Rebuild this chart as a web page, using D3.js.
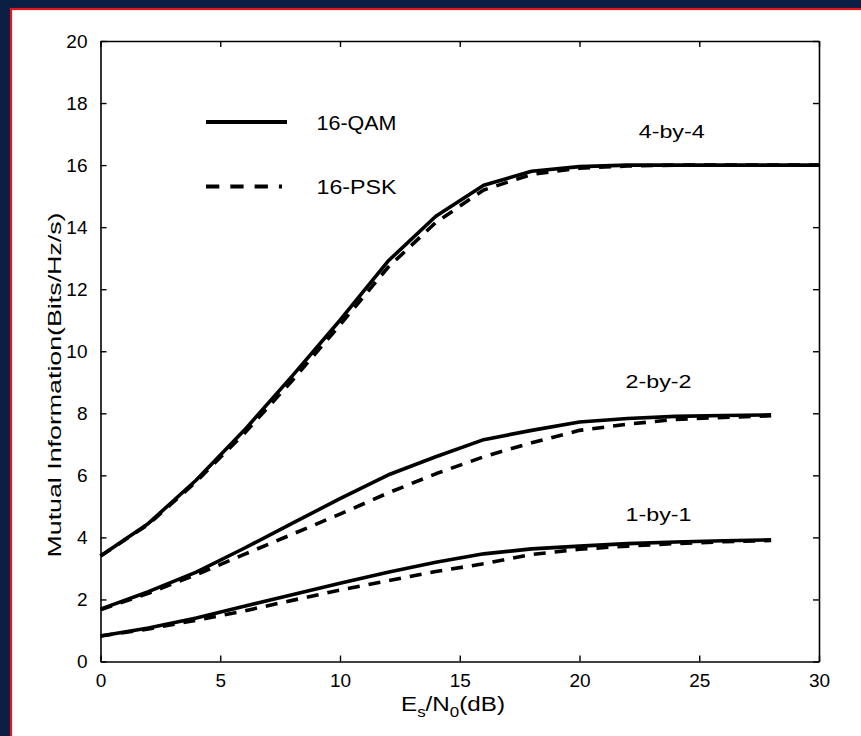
<!DOCTYPE html>
<html>
<head>
<meta charset="utf-8">
<script src="https://cdn.jsdelivr.net/npm/d3@7"></script>
<style>
  html, body { margin: 0; padding: 0; background: #0b1f45; }
  svg { display: block; }
  text { font-family: "Liberation Sans", Arial, sans-serif; fill: #000; }
</style>
</head>
<body>
<svg id="chart" width="861" height="736"></svg>
<script>
// ---- data ----
const snrDb = [0, 2, 4, 6, 8, 10, 12, 14, 16, 18, 20, 22, 24, 26, 28, 30];
const qam4x4 = [3.4, 4.45, 5.85, 7.45, 9.2, 11.0, 12.9, 14.35, 15.35, 15.8, 15.95, 16.0, 16.0, 16.0, 16.0, 16.0];
const psk4x4 = [3.4, 4.42, 5.8, 7.35, 9.05, 10.85, 12.7, 14.15, 15.2, 15.7, 15.9, 15.97, 16.0, 16.0, 16.0, 16.0];
const qam2x2 = [1.69, 2.25, 2.88, 3.65, 4.45, 5.25, 6.01, 6.6, 7.15, 7.45, 7.72, 7.83, 7.9, 7.93, 7.95];
const psk2x2 = [1.67, 2.2, 2.8, 3.45, 4.1, 4.75, 5.43, 6.05, 6.6, 7.05, 7.45, 7.65, 7.8, 7.87, 7.92];
const qam1x1 = [0.82, 1.08, 1.4, 1.78, 2.15, 2.52, 2.88, 3.2, 3.47, 3.63, 3.72, 3.8, 3.85, 3.89, 3.92];
const psk1x1 = [0.82, 1.05, 1.33, 1.63, 1.97, 2.3, 2.6, 2.9, 3.15, 3.45, 3.62, 3.72, 3.8, 3.86, 3.9];
const xTicks = [0, 5, 10, 15, 20, 25, 30];
const yTicks = [0, 2, 4, 6, 8, 10, 12, 14, 16, 18, 20];
const curveLabels = ["4-by-4", "2-by-2", "1-by-1"];
const curveLabelPos = [[23.85, 16.88], [23.3, 8.82], [23.3, 4.53]]; // [dB, value] anchor
const legendNames = ["16-QAM", "16-PSK"];

// ---- layout ----
const svg = d3.select("#chart");
const L = 100.5, R = 819, T = 41, B = 661.5;

// page frame
svg.append("rect").attr("x", 0).attr("y", 0).attr("width", 861).attr("height", 736).attr("fill", "#0b1f45");
svg.append("rect").attr("x", 11).attr("y", 9).attr("width", 861).attr("height", 740)
  .attr("fill", "#ffffff").attr("stroke", "#e8141b").attr("stroke-width", 2.2);

const x = d3.scaleLinear().domain([0, 30]).range([L, R]);
const y = d3.scaleLinear().domain([0, 20]).range([B, T]);

const g = svg.append("g");

// axes box
const axisStyle = sel => {
  sel.select(".domain").attr("stroke", "#000").attr("stroke-width", 1.6);
  sel.selectAll(".tick line").attr("stroke", "#000").attr("stroke-width", 1.4);
  sel.selectAll(".tick text").style("font-size", "19px").style("font-family", "Liberation Sans, Arial, sans-serif");
};
g.append("g").attr("transform", `translate(0,${B})`)
  .call(d3.axisBottom(x).tickValues(xTicks).tickSizeInner(-6).tickSizeOuter(0).tickPadding(12).tickFormat(d3.format("d")))
  .call(axisStyle);
g.append("g").attr("transform", `translate(0,${T})`)
  .call(d3.axisTop(x).tickValues(xTicks).tickSizeInner(-6).tickSizeOuter(0).tickFormat(""))
  .call(axisStyle);
g.append("g").attr("transform", `translate(${L},0)`)
  .call(d3.axisLeft(y).tickValues(yTicks).tickSizeInner(-6).tickSizeOuter(0).tickPadding(13).tickFormat(d3.format("d")))
  .call(axisStyle);
g.append("g").attr("transform", `translate(${R},0)`)
  .call(d3.axisRight(y).tickValues(yTicks).tickSizeInner(-6).tickSizeOuter(0).tickFormat(""))
  .call(axisStyle);
g.selectAll(".tick text").attr("fill", "#000");

// curves
const line = d3.line().x((d, i) => x(snrDb[i])).y(d => y(d));
const series = [
  { v: qam4x4, dash: null }, { v: psk4x4, dash: "12,9" },
  { v: qam2x2, dash: null }, { v: psk2x2, dash: "12,9" },
  { v: qam1x1, dash: null }, { v: psk1x1, dash: "12,9" }
];
series.filter(s => s.dash).concat(series.filter(s => !s.dash)).forEach(s => {
  g.append("path").datum(s.v).attr("d", line)
    .attr("fill", "none").attr("stroke", "#000").attr("stroke-width", 3.6)
    .attr("stroke-linejoin", "round")
    .attr("stroke-dasharray", s.dash);
});

// curve labels
curveLabels.forEach((t, i) => {
  g.append("text").attr("x", x(curveLabelPos[i][0])).attr("y", y(curveLabelPos[i][1]))
    .attr("text-anchor", "middle").style("font-size", "18px")
    .attr("textLength", 66).attr("lengthAdjust", "spacingAndGlyphs")
    .text(t);
});

// legend
const legY = [122, 186.5];
legendNames.forEach((t, i) => {
  g.append("line").attr("x1", 206).attr("x2", i === 0 ? 287 : 282)
    .attr("y1", legY[i]).attr("y2", legY[i])
    .attr("stroke", "#000").attr("stroke-width", 3.8)
    .attr("stroke-dasharray", i === 0 ? null : "13.3,11");
  g.append("text").attr("x", 316.5).attr("y", legY[i] + 7.5)
    .style("font-size", "19.5px")
    .attr("textLength", 80).attr("lengthAdjust", "spacingAndGlyphs")
    .text(t);
});

// x axis title
const xt = g.append("text").attr("x", 401).attr("y", 711).style("font-size", "20px");
xt.append("tspan").text("E");
xt.append("tspan").attr("dy", 6).style("font-size", "14px").text("s");
xt.append("tspan").attr("dy", -6).text("/N");
xt.append("tspan").attr("dy", 6).style("font-size", "14px").text("0");
xt.append("tspan").attr("dy", -6).text("(dB)");
xt.attr("textLength", 104).attr("lengthAdjust", "spacingAndGlyphs");

// y axis title
g.append("text").attr("transform", `translate(61,${385}) rotate(-90)`)
  .attr("text-anchor", "middle").style("font-size", "18.5px")
  .attr("textLength", 345).attr("lengthAdjust", "spacingAndGlyphs")
  .text("Mutual Information(Bits/Hz/s)");
</script>
</body>
</html>
